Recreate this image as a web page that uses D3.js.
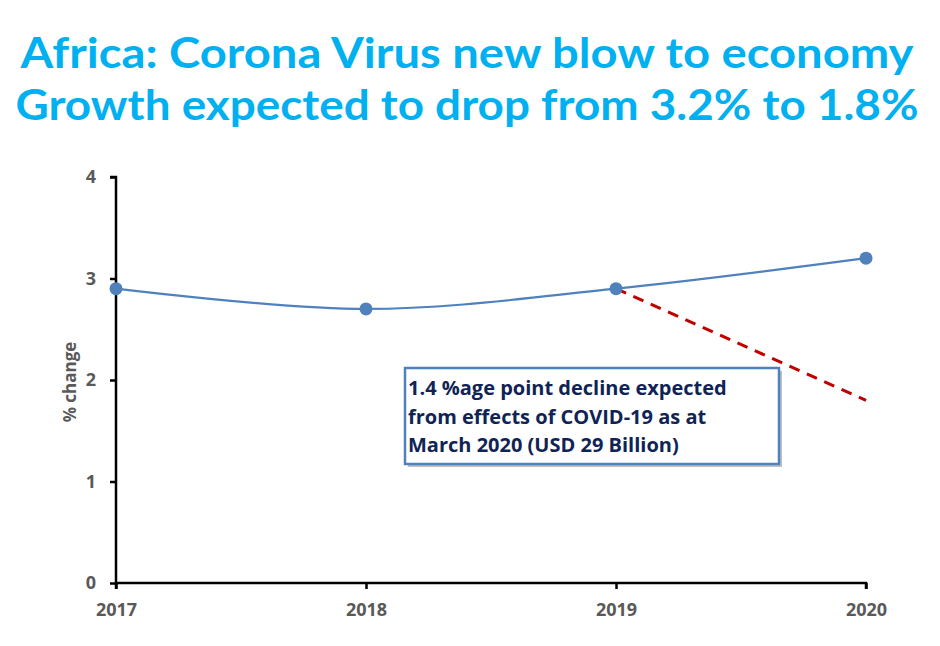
<!DOCTYPE html>
<html>
<head>
<meta charset="utf-8">
<script src="https://cdn.jsdelivr.net/npm/d3@7"></script>
<style>
  html, body { margin: 0; padding: 0; background: #fff; }
  svg { display: block; }
</style>
</head>
<body>
<svg id="chart" width="940" height="646"></svg>
<script>
const years = ["2017", "2018", "2019", "2020"];
const growth = [2.9, 2.7, 2.9, 3.2];
const projYears = ["2019", "2020"];
const projected = [2.9, 1.8];
const yTicks = [0, 1, 2, 3, 4];
const titleLines = ["Africa: Corona Virus new blow to economy", "Growth expected to drop from 3.2% to 1.8%"];
const yLabel = "% change";
const noteLines = ["1.4 %age point decline expected", "from effects of COVID-19 as at", "March 2020 (USD 29 Billion)"];

(function () {
const svg = d3.select("#chart");
const pLeft = 116, pRight = 866, pTop = 177, pBottom = 583;
const labFont = "'Open Sans', 'Liberation Sans', sans-serif";

const x = d3.scalePoint().domain(years).range([pLeft, pRight]);
const y = d3.scaleLinear().domain([0, 4]).range([pBottom, pTop]);

// Title
svg.selectAll("text.title").data(titleLines).join("text")
  .attr("class", "title")
  .attr("x", 467)
  .attr("y", (d, i) => 68 + i * 52)
  .attr("text-anchor", "middle")
  .attr("font-family", "Lato, 'DejaVu Sans', sans-serif")
  .attr("font-weight", "bold")
  .attr("font-size", 42)
  .attr("fill", "#00B0F0")
  .attr("textLength", (d, i) => i === 0 ? 893 : 903)
  .attr("lengthAdjust", "spacingAndGlyphs")
  .text(d => d);

// Y axis
const yAxis = svg.append("g").attr("transform", `translate(${pLeft},0)`)
  .call(d3.axisLeft(y).tickValues(yTicks).tickSize(6).tickPadding(14).tickFormat(d3.format("d")));
yAxis.select(".domain").attr("stroke", "#000").attr("stroke-width", 2.5)
  .attr("d", `M-6,${pTop}H0V${pBottom + 6}`);
yAxis.selectAll(".tick line").attr("stroke", "#000").attr("stroke-width", 2.5);
yAxis.selectAll(".tick text")
  .attr("font-family", labFont)
  .attr("font-weight", "bold").attr("font-size", 18).attr("fill", "#595959");

// X axis
const xAxis = svg.append("g").attr("transform", `translate(0,${pBottom})`)
  .call(d3.axisBottom(x).tickSize(6).tickPadding(14));
xAxis.select(".domain").attr("stroke", "#000").attr("stroke-width", 2.5)
  .attr("d", `M${pLeft},0H${pRight}V6`);
xAxis.selectAll(".tick line").attr("stroke", "#000").attr("stroke-width", 2.5);
xAxis.selectAll(".tick text")
  .attr("font-family", labFont)
  .attr("font-weight", "bold").attr("font-size", 18).attr("fill", "#595959");

// Y label
svg.append("text")
  .attr("transform", `translate(76,382) rotate(-90)`)
  .attr("text-anchor", "middle")
  .attr("font-family", labFont)
  .attr("font-weight", "bold").attr("font-size", 17).attr("fill", "#595959")
  .text(yLabel);

// Projection dashed line
const proj = projYears.map((yr, i) => ({ yr, v: projected[i] }));
svg.append("path")
  .datum(proj)
  .attr("fill", "none")
  .attr("stroke", "#C00000")
  .attr("stroke-width", 3)
  .attr("stroke-dasharray", "11,8")
  .attr("d", d3.line().x(d => x(d.yr)).y(d => y(d.v)));

// Main line
const pts = years.map((yr, i) => ({ yr, v: growth[i] }));
svg.append("path")
  .datum(pts)
  .attr("fill", "none")
  .attr("stroke", "#4F81BD")
  .attr("stroke-width", 2.2)
  .attr("d", d3.line().x(d => x(d.yr)).y(d => y(d.v)).curve(d3.curveCatmullRom.alpha(0.5)));

svg.selectAll("circle.pt").data(pts).join("circle")
  .attr("class", "pt")
  .attr("cx", d => x(d.yr))
  .attr("cy", d => y(d.v))
  .attr("r", 6.5)
  .attr("fill", "#4F81BD");

// Annotation box
const bx = 405, by = 368, bw = 374, bh = 96;
svg.append("rect").attr("x", bx + 3).attr("y", by + 3).attr("width", bw).attr("height", bh)
  .attr("fill", "#BFBFBF");
svg.append("rect").attr("x", bx).attr("y", by).attr("width", bw).attr("height", bh)
  .attr("fill", "#fff").attr("stroke", "#4F81BD").attr("stroke-width", 2.5);
svg.selectAll("text.note").data(noteLines).join("text")
  .attr("class", "note")
  .attr("x", bx + 3)
  .attr("y", (d, i) => by + 27 + i * 28.5)
  .attr("font-family", labFont)
  .attr("font-weight", "bold").attr("font-size", 20).attr("fill", "#0F2454")
  .text(d => d);
})();
</script>
</body>
</html>
